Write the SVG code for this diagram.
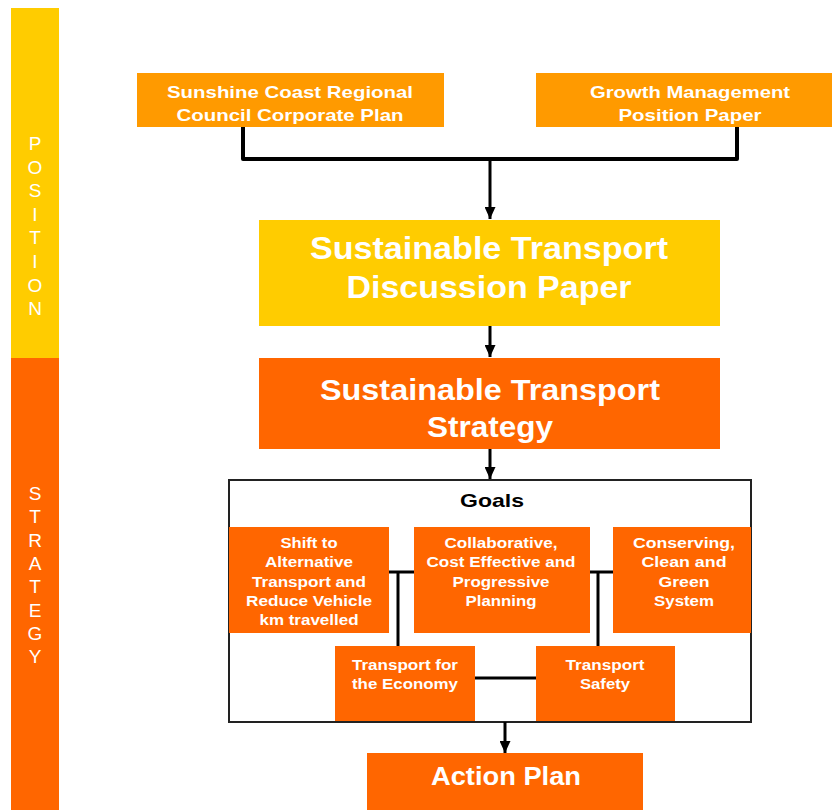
<svg xmlns="http://www.w3.org/2000/svg" width="832" height="810" viewBox="0 0 832 810">
<defs>
<style>
.t{font-family:"Liberation Sans",Arial,sans-serif;font-weight:bold;fill:#fff;text-anchor:middle}
.side{font-family:"Liberation Sans",Arial,sans-serif;font-size:19px;fill:#fff;text-anchor:middle}
.g{font-size:14.5px}
.conn{stroke:#000;fill:none;stroke-linejoin:round}
</style>
<marker id="ah" viewBox="0 0 12 11" refX="12" refY="5.5" markerWidth="12" markerHeight="11" markerUnits="userSpaceOnUse" orient="auto">
<path d="M0,0 L12,5.5 L0,11 z" fill="#000"/>
</marker>
</defs>
<rect width="832" height="810" fill="#fff"/>

<g id="side-position">
<rect x="11" y="8" width="48" height="350" fill="#FFCC00"/>
<text class="side"><tspan x="35" y="150">P</tspan><tspan x="35" y="173.6">O</tspan><tspan x="35" y="197.2">S</tspan><tspan x="35" y="220.8">I</tspan><tspan x="35" y="244.4">T</tspan><tspan x="35" y="268">I</tspan><tspan x="35" y="291.6">O</tspan><tspan x="35" y="315.2">N</tspan></text>
</g>
<g id="side-strategy">
<rect x="11" y="358" width="48" height="452" fill="#FF6600"/>
<text class="side"><tspan x="35" y="500">S</tspan><tspan x="35" y="523.3">T</tspan><tspan x="35" y="546.6">R</tspan><tspan x="35" y="569.9">A</tspan><tspan x="35" y="593.2">T</tspan><tspan x="35" y="616.5">E</tspan><tspan x="35" y="639.8">G</tspan><tspan x="35" y="663.1">Y</tspan></text>
</g>

<g id="goals">
<rect x="229" y="480" width="522" height="242" fill="#fff" stroke="#222" stroke-width="2"/>
<text x="492" y="507" font-family="Liberation Sans,Arial,sans-serif" font-weight="bold" font-size="19" text-anchor="middle" fill="#000" textLength="64" lengthAdjust="spacingAndGlyphs">Goals</text>
</g>

<g id="connectors">
<path class="conn" stroke-width="4" d="M243,127 V159 H737 V127"/>
<path class="conn" stroke-width="3" d="M490,159 V219" marker-end="url(#ah)"/>
<path class="conn" stroke-width="3" d="M490,326 V357" marker-end="url(#ah)"/>
<path class="conn" stroke-width="3" d="M490,449 V479" marker-end="url(#ah)"/>
<path class="conn" stroke-width="3" d="M505,722 V753" marker-end="url(#ah)"/>
<path class="conn" stroke-width="3" d="M389,572 H414 M398,572 V646"/>
<path class="conn" stroke-width="3" d="M590,572 H613 M598,572 V646"/>
<path class="conn" stroke-width="3" d="M475,678 H536"/>
</g>

<g id="corporate-plan">
<rect x="137" y="73" width="307" height="54" fill="#FF9A00"/>
<text class="t" font-size="17"><tspan x="290" y="98" textLength="246" lengthAdjust="spacingAndGlyphs">Sunshine Coast Regional</tspan><tspan x="290" y="121" textLength="227" lengthAdjust="spacingAndGlyphs">Council Corporate Plan</tspan></text>
</g>
<g id="growth-management">
<rect x="536" y="73" width="296" height="54" fill="#FF9A00"/>
<text class="t" font-size="17"><tspan x="690" y="98" textLength="200" lengthAdjust="spacingAndGlyphs">Growth Management</tspan><tspan x="690" y="121" textLength="143" lengthAdjust="spacingAndGlyphs">Position Paper</tspan></text>
</g>
<g id="discussion-paper">
<rect x="259" y="220" width="461" height="106" fill="#FFCC00"/>
<text class="t" font-size="31"><tspan x="489" y="259" textLength="358" lengthAdjust="spacingAndGlyphs">Sustainable Transport</tspan><tspan x="489" y="298" textLength="285" lengthAdjust="spacingAndGlyphs">Discussion Paper</tspan></text>
</g>
<g id="strategy">
<rect x="259" y="358" width="461" height="91" fill="#FF6600"/>
<text class="t" font-size="30"><tspan x="490" y="400" textLength="340" lengthAdjust="spacingAndGlyphs">Sustainable Transport</tspan><tspan x="490" y="437" textLength="126" lengthAdjust="spacingAndGlyphs">Strategy</tspan></text>
</g>
<g id="goal-shift">
<rect x="229" y="527" width="160" height="106" fill="#FF6600"/>
<text class="t g"><tspan x="309" y="548" textLength="57" lengthAdjust="spacingAndGlyphs">Shift to</tspan><tspan x="309" y="567.3" textLength="88" lengthAdjust="spacingAndGlyphs">Alternative</tspan><tspan x="309" y="586.6" textLength="114" lengthAdjust="spacingAndGlyphs">Transport and</tspan><tspan x="309" y="605.9" textLength="126" lengthAdjust="spacingAndGlyphs">Reduce Vehicle</tspan><tspan x="309" y="625.2" textLength="99" lengthAdjust="spacingAndGlyphs">km travelled</tspan></text>
</g>
<g id="goal-collaborative">
<rect x="414" y="527" width="176" height="106" fill="#FF6600"/>
<text class="t g"><tspan x="501" y="548" textLength="113" lengthAdjust="spacingAndGlyphs">Collaborative,</tspan><tspan x="501" y="567.3" textLength="149" lengthAdjust="spacingAndGlyphs">Cost Effective and</tspan><tspan x="501" y="586.6" textLength="97" lengthAdjust="spacingAndGlyphs">Progressive</tspan><tspan x="501" y="605.9" textLength="71" lengthAdjust="spacingAndGlyphs">Planning</tspan></text>
</g>
<g id="goal-conserving">
<rect x="613" y="527" width="138" height="106" fill="#FF6600"/>
<text class="t g"><tspan x="684" y="548" textLength="102" lengthAdjust="spacingAndGlyphs">Conserving,</tspan><tspan x="684" y="567.3" textLength="85" lengthAdjust="spacingAndGlyphs">Clean and</tspan><tspan x="684" y="586.6" textLength="51" lengthAdjust="spacingAndGlyphs">Green</tspan><tspan x="684" y="605.9" textLength="60" lengthAdjust="spacingAndGlyphs">System</tspan></text>
</g>
<g id="goal-economy">
<rect x="335" y="646" width="140" height="75" fill="#FF6600"/>
<text class="t g"><tspan x="405" y="670" textLength="106" lengthAdjust="spacingAndGlyphs">Transport for</tspan><tspan x="405" y="689" textLength="106" lengthAdjust="spacingAndGlyphs">the Economy</tspan></text>
</g>
<g id="goal-safety">
<rect x="536" y="646" width="139" height="75" fill="#FF6600"/>
<text class="t g"><tspan x="605" y="670" textLength="79" lengthAdjust="spacingAndGlyphs">Transport</tspan><tspan x="605" y="689" textLength="50" lengthAdjust="spacingAndGlyphs">Safety</tspan></text>
</g>
<g id="action-plan">
<rect x="367" y="753" width="276" height="57" fill="#FF6600"/>
<text class="t" x="506" y="785" font-size="26" textLength="150" lengthAdjust="spacingAndGlyphs">Action Plan</text>
</g>
</svg>
